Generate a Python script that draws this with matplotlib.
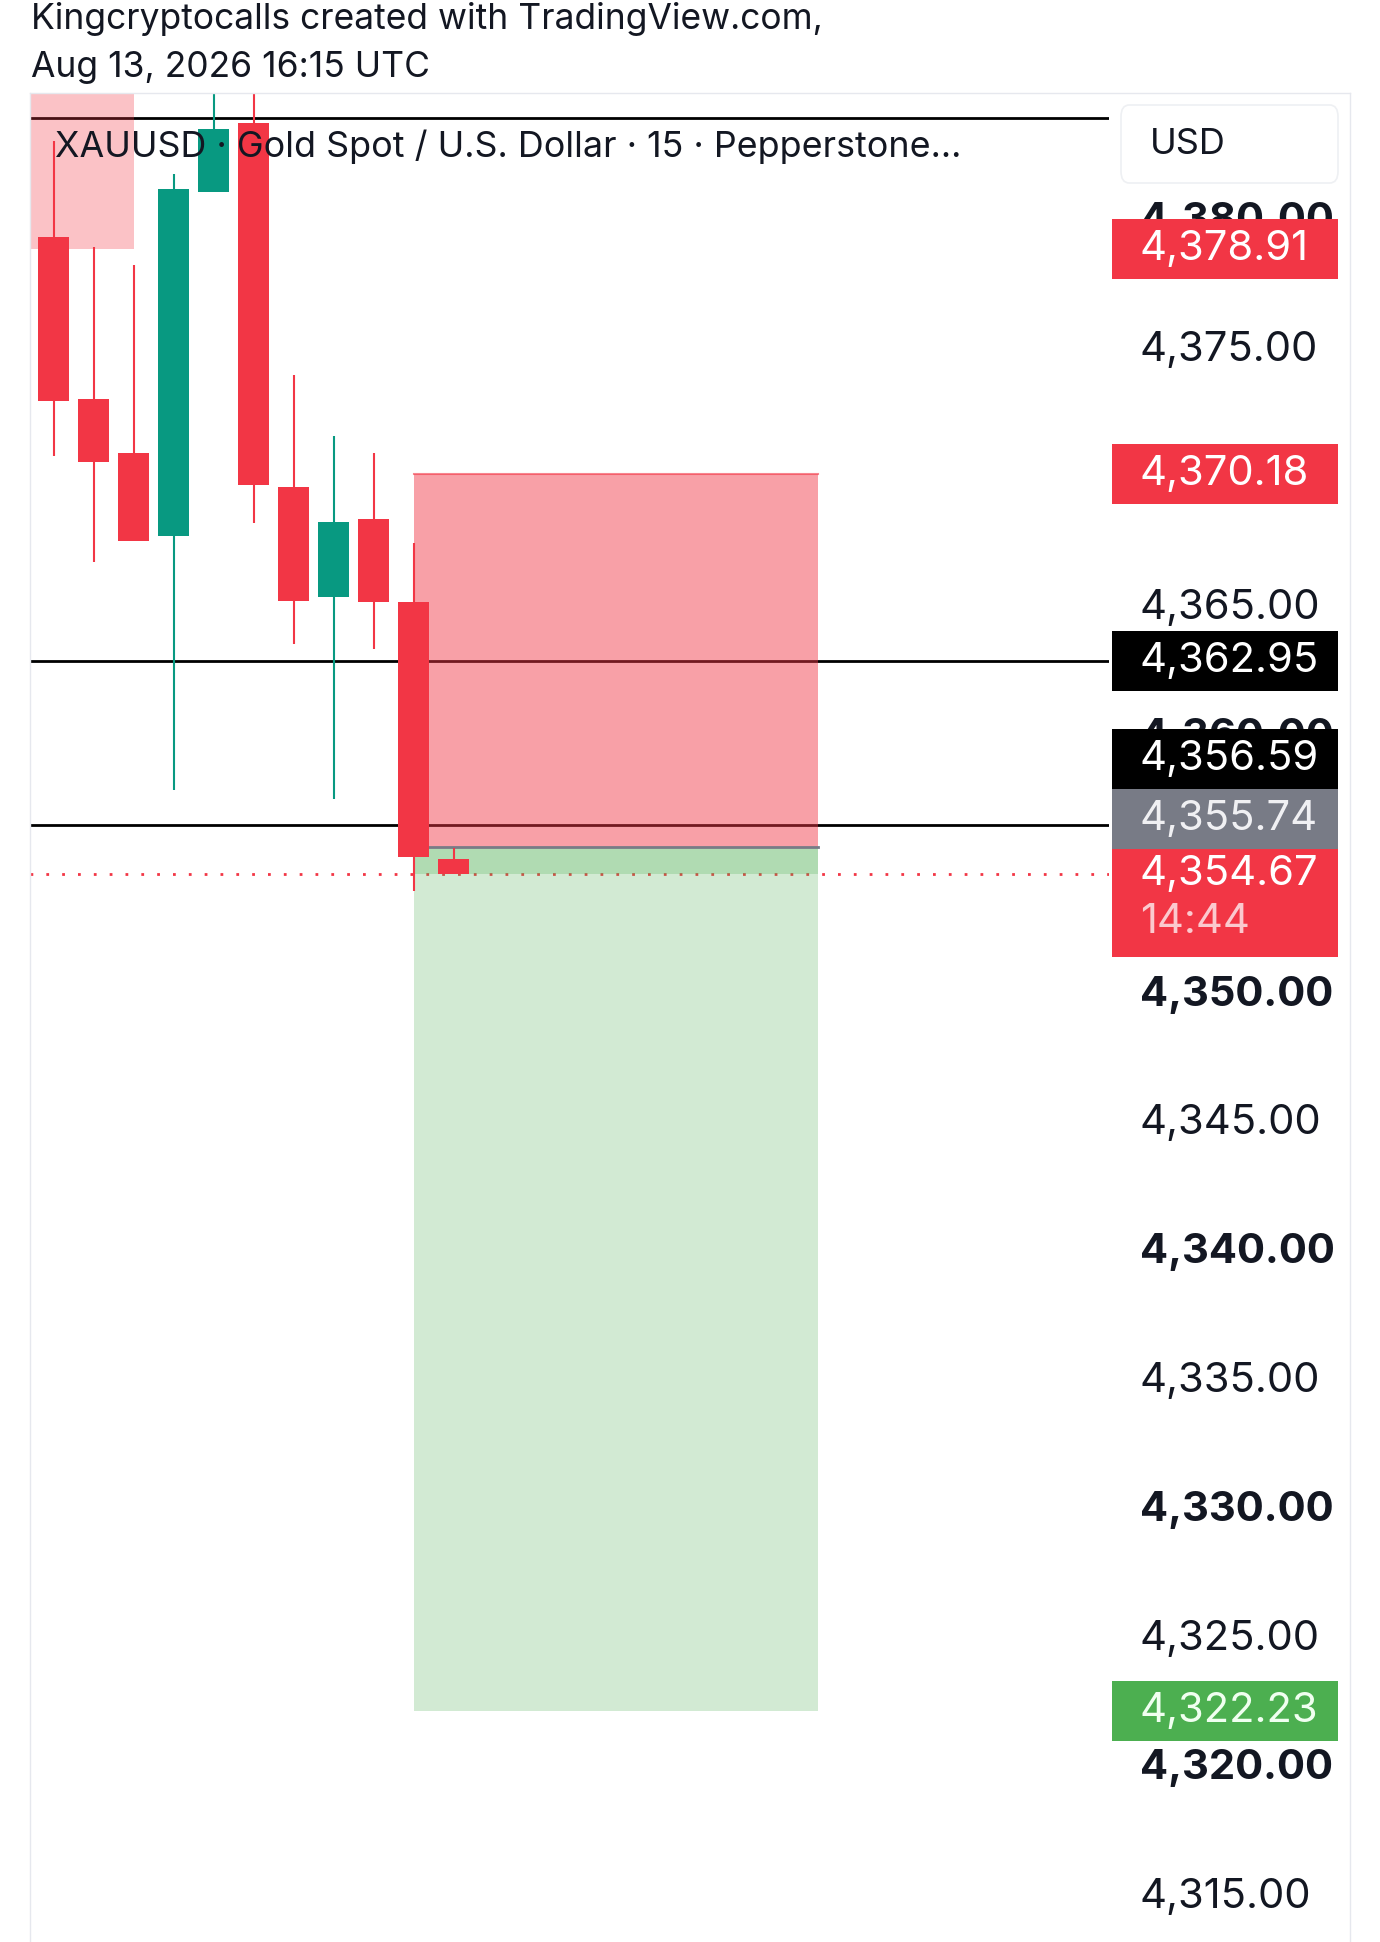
import numpy as np
import matplotlib.pyplot as plt
from matplotlib.patches import Rectangle, FancyBboxPatch

plt.rcParams['font.family'] = ['Inter', 'DejaVu Sans']

# XAUUSD 15m candles
opens  = [4379.38, 4373.09, 4371.00, 4367.80, 4381.14, 4383.80, 4369.68, 4365.42, 4368.44, 4365.24, 4355.25]
highs  = [4383.08, 4378.99, 4378.29, 4381.82, 4386.60, 4386.60, 4374.03, 4371.67, 4371.00, 4367.51, 4355.67]
lows   = [4370.87, 4366.79, 4367.60, 4357.94, 4381.14, 4368.28, 4363.60, 4357.59, 4363.41, 4354.03, 4354.70]
closes = [4373.00, 4370.67, 4367.60, 4381.24, 4383.56, 4369.77, 4365.27, 4368.34, 4365.23, 4355.35, 4354.67]

# horizontal levels drawn by the author
levels = [4383.98, 4362.95, 4356.59]

# short position tool
entry = 4355.74
stop = 4370.18
target = 4322.23
pos_start, pos_end = 9, 19.1

# zone at top left
zone_bottom = 4378.91
zone_end = 2.0

current = 4354.67
countdown = "14:44"

# price scale
tick_values = list(range(4315, 4385, 5))

# (price, background, text colour)
price_tags = [
    (4378.91, '#F23645', 'white'),
    (4370.18, '#F23645', 'white'),
    (4362.95, '#000000', 'white'),
    (4356.59, '#000000', 'white'),
    (4355.74, '#787B86', '#F0F0F3'),
    (4322.23, '#4CAF50', '#F0FFF0'),
]

RED = '#F23645'
GREEN = '#089981'

fig = plt.figure(figsize=(13.8, 19.42), dpi=100)
W, H = 1380, 1942

ax = fig.add_axes([30 / W, 0, 1079 / W, 1849 / H])
ax.set_xlim(-0.5875, 26.3875)
ax.set_ylim(4313.26, 4384.96)
ax.axis('off')

ax2 = fig.add_axes([1109 / W, 0, 241 / W, 1849 / H], sharey=ax)
ax2.set_xlim(0, 1)
ax2.axis('off')

# frame
fig.add_artist(plt.Line2D([30 / W, 1350 / W], [1 - 93 / H, 1 - 93 / H], color='#E6E8EE', lw=1))
fig.add_artist(plt.Line2D([30 / W, 30 / W], [0, 1 - 93 / H], color='#E6E8EE', lw=1))
fig.add_artist(plt.Line2D([1350 / W, 1350 / W], [0, 1 - 93 / H], color='#E6E8EE', lw=1))

# header
fig.text(31 / W, 1 - 29 / H, "Kingcryptocalls created with TradingView.com,", fontsize=25.5,
         color='#131722', va='baseline')
fig.text(31 / W, 1 - 77 / H, "Aug 13, 2026 16:15 UTC", fontsize=25.5, color='#131722', va='baseline')

# top-left zone
ax.add_patch(Rectangle((-1, zone_bottom), zone_end + 1, 20, facecolor=RED, alpha=0.3,
                       edgecolor='none', zorder=3))

# horizontal lines
for lv in levels:
    ax.axhline(lv, color='black', lw=2, zorder=2)

# current price dotted line
ax.axhline(current, color=RED, lw=2, ls=(0, (1, 4.7)), zorder=2)

# position tool
ax.add_patch(Rectangle((pos_start, entry), pos_end - pos_start, stop - entry,
                       facecolor=RED, alpha=0.47, edgecolor='none', zorder=3))
ax.add_patch(Rectangle((pos_start, target), pos_end - pos_start, entry - target,
                       facecolor='#4CAF50', alpha=0.25, edgecolor='none', zorder=3))
ax.add_patch(Rectangle((pos_start, current), pos_end - pos_start, entry - current,
                       facecolor='#4CAF50', alpha=0.25, edgecolor='none', zorder=3))
ax.plot([pos_start, pos_end], [stop, stop], color=RED, alpha=0.6, lw=1.5, zorder=3)
ax.plot([pos_start, pos_end], [entry, entry], color='#787B86', lw=2, zorder=3)

# candles
for i, (o, h, l, c) in enumerate(zip(opens, highs, lows, closes)):
    col = GREEN if c >= o else RED
    ax.vlines(i, l, h, color=col, lw=1.5, zorder=5)
    ax.add_patch(Rectangle((i - 0.385, min(o, c)), 0.77, max(abs(c - o), 0.05),
                           facecolor=col, edgecolor='none', zorder=5))

# symbol title
ax.text(25 / 1079, 1 - 54 / 1849, "XAUUSD · Gold Spot / U.S. Dollar · 15 · Pepperstone...",
        transform=ax.transAxes, fontsize=25.8, color='#131722', va='center', zorder=10)

# USD box
fig.add_artist(FancyBboxPatch((1121 / W, 1 - 183 / H), 217 / W, 78 / H,
                              boxstyle='round,pad=0,rounding_size=0.006',
                              transform=fig.transFigure, facecolor='white',
                              edgecolor='#EEF0F3', lw=1.2))
fig.text(1150 / W, 1 - 145 / H, "USD", fontsize=26, color='#131722', va='center')

# tick labels
tx = 31 / 241
FS = 30
for v in tick_values:
    ax2.text(tx, v, f"{v:,.2f}", fontsize=FS, color='#131722', va='center',
             fontweight='bold' if v % 10 == 0 else 'normal', zorder=2)

# price tags with stacking (half box height in price units)
half = 1.165
bx0, bx1 = 3 / 241, 229 / 241
cur_top = current + 0.97
cur_bot = current - 3.22
ax2.add_patch(Rectangle((bx0, cur_bot), bx1 - bx0, cur_top - cur_bot, facecolor=RED,
                        edgecolor='none', zorder=6))
ax2.text(tx, current, f"{current:,.2f}", fontsize=FS, color='white', va='center', zorder=7)
ax2.text(tx, current - 1.85, countdown, fontsize=FS, color='#FBC9CE', va='center', zorder=7)

floor = cur_top
for price, bg, fg in sorted(price_tags, key=lambda t: t[0]):
    y = price
    if price > current:
        if y - half < floor:
            y = floor + half
        floor = y + half
    ax2.add_patch(Rectangle((bx0, y - half), bx1 - bx0, 2 * half, facecolor=bg,
                            edgecolor='none', zorder=6))
    ax2.text(tx, y, f"{price:,.2f}", fontsize=FS, color=fg, va='center', zorder=7)

fig.savefig('out.png', dpi=100, facecolor='white')
